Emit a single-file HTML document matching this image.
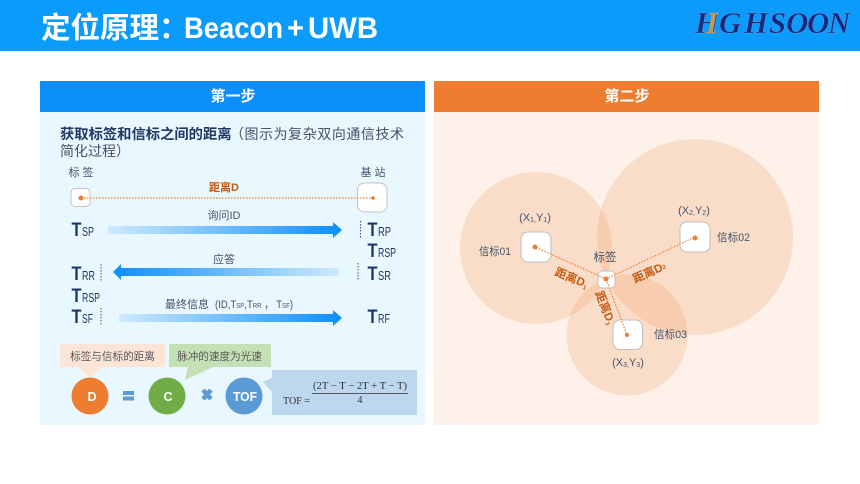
<!DOCTYPE html>
<html><head><meta charset="utf-8"><style>
html,body{margin:0;padding:0;background:#fff}
svg{display:block}
text{font-family:"Liberation Sans","Noto Sans CJK SC",sans-serif}
.g{fill:#44546a;font-size:11px}
.d{fill:#1f3864;font-size:19px;font-weight:bold}
.s{fill:#1f3864;font-size:13px}
.o{fill:#c55a11;font-size:11.500px;font-weight:bold}
.f{font-family:"Liberation Serif",serif;fill:#333;font-size:10px}
</style></head><body>
<svg width="860" height="484" viewBox="0 0 860 484" xmlns="http://www.w3.org/2000/svg">
<defs>
<linearGradient id="r"><stop offset="0" stop-color="#cfeafd"/><stop offset="1" stop-color="#0c8efb"/></linearGradient>
<linearGradient id="l"><stop offset="0" stop-color="#0c8efb"/><stop offset="1" stop-color="#cfeafd"/></linearGradient>
</defs>
<rect width="860" height="484" fill="#fff"/>
<rect width="860" height="51" fill="#0a9bfb"/>
<text x="41" y="38" font-size="29.500" font-weight="bold" fill="#fff">定位原理：</text>
<text x="184" y="38" font-size="30" font-weight="bold" fill="#fff" textLength="99" lengthAdjust="spacingAndGlyphs">Beacon</text>
<text x="287" y="38" font-size="30" font-weight="bold" fill="#fff" textLength="17" lengthAdjust="spacingAndGlyphs">+</text>
<text x="308" y="38" font-size="30" font-weight="bold" fill="#fff" textLength="70" lengthAdjust="spacingAndGlyphs">UWB</text>
<text y="33" font-size="31" font-weight="bold" font-style="italic" stroke="#6f9fdc" stroke-width=".4" style="font-family:'Liberation Serif',serif" fill="#12297f"><tspan x="695">H</tspan><tspan x="706" fill="#c19a5b" stroke="none">I</tspan><tspan x="719 744 769 786 807 828">GHSOON</tspan></text>

<rect x="40" y="81" width="385" height="31" fill="#0c8efb"/>
<rect x="40" y="112" width="385" height="313" fill="#e9f7fe"/>
<text x="233" y="101" text-anchor="middle" fill="#fff" font-size="15" font-weight="bold">第一步</text>
<rect x="434" y="81" width="385" height="31" fill="#ed7d31"/>
<rect x="434" y="112" width="385" height="313" fill="#fdf1e9"/>
<text x="627" y="101" text-anchor="middle" fill="#fff" font-size="15" font-weight="bold">第二步</text>

<text x="60" y="139" font-size="14.300" font-weight="bold" fill="#1f3864">获取标签和信标之间的距离</text>
<text x="230" y="139" font-size="14" fill="#44546a" textLength="174">（图示为复杂双向通信技术</text>
<text x="60" y="156" font-size="14" fill="#44546a">简化过程）</text>

<text x="81" y="176" class="g" text-anchor="middle">标 签</text>
<text x="373" y="176" class="g" text-anchor="middle">基 站</text>
<rect x="71" y="188.500" width="19" height="18" rx="4" fill="#fff" stroke="#bfc3c9"/>
<rect x="357.500" y="183" width="29.500" height="29" rx="7" fill="#fff" stroke="#bfc3c9"/>
<line x1="81" y1="198" x2="373" y2="198" stroke="#ed7d31" stroke-width="1.200" stroke-dasharray="1.500 1.500"/>
<circle cx="81" cy="198" r="2.500" fill="#ed7d31"/><circle cx="373" cy="198" r="1.800" fill="#ed7d31"/>
<text x="224" y="191" class="o" text-anchor="middle" style="font-size:11px">距离D</text>

<text x="224" y="219" class="g" text-anchor="middle">询问ID</text>
<polygon points="108,226 333,226 333,222 342,230 333,238 333,234 108,234" fill="url(#r)"/>
<text x="224" y="263" class="g" text-anchor="middle">应答</text>
<polygon points="339,268 121,268 121,264 113,272 121,280 121,276 339,276" fill="url(#l)"/>
<text x="165" y="308" class="g">最终信息</text>
<text x="215" y="308" class="g" textLength="78" lengthAdjust="spacingAndGlyphs">(ID,T<tspan font-size="7">SP</tspan>,T<tspan font-size="7">RR</tspan> ， T<tspan font-size="7">SF</tspan>)</text>
<polygon points="119,314 333,314 333,310 342,318 333,326 333,322 119,322" fill="url(#r)"/>

<g stroke="#44546a" stroke-width="1" stroke-dasharray="1.500 1.500">
<line x1="360.500" y1="221" x2="360.500" y2="239"/><line x1="358" y1="263" x2="358" y2="281"/>
<line x1="101" y1="264" x2="101" y2="282"/><line x1="101" y1="308" x2="101" y2="326"/>
</g>
<text class="d" x="71.500" y="236" textLength="10" lengthAdjust="spacingAndGlyphs">T</text>
<text class="d" x="367.500" y="236" textLength="10" lengthAdjust="spacingAndGlyphs">T</text>
<text class="d" x="367.500" y="257" textLength="10" lengthAdjust="spacingAndGlyphs">T</text>
<text class="d" x="367.500" y="280" textLength="10" lengthAdjust="spacingAndGlyphs">T</text>
<text class="d" x="71.500" y="280" textLength="10" lengthAdjust="spacingAndGlyphs">T</text>
<text class="d" x="71.500" y="302" textLength="10" lengthAdjust="spacingAndGlyphs">T</text>
<text class="d" x="71.500" y="323" textLength="10" lengthAdjust="spacingAndGlyphs">T</text>
<text class="d" x="367.500" y="323" textLength="10" lengthAdjust="spacingAndGlyphs">T</text>
<text class="s" x="82" y="236" textLength="12" lengthAdjust="spacingAndGlyphs">SP</text>
<text class="s" x="378" y="236" textLength="13" lengthAdjust="spacingAndGlyphs">RP</text>
<text class="s" x="378" y="257" textLength="18" lengthAdjust="spacingAndGlyphs">RSP</text>
<text class="s" x="378" y="280" textLength="13" lengthAdjust="spacingAndGlyphs">SR</text>
<text class="s" x="82" y="280" textLength="13" lengthAdjust="spacingAndGlyphs">RR</text>
<text class="s" x="82" y="302" textLength="18" lengthAdjust="spacingAndGlyphs">RSP</text>
<text class="s" x="82" y="323" textLength="11" lengthAdjust="spacingAndGlyphs">SF</text>
<text class="s" x="378" y="323" textLength="12" lengthAdjust="spacingAndGlyphs">RF</text>

<polygon points="60,344 165,344 165,367 103,367 90,378 78,367 60,367" fill="#fbe5d6"/>
<text x="112.500" y="360" text-anchor="middle" font-size="10.600" fill="#595959">标签与信标的距离</text>
<polygon points="169,344 271,344 271,367 213,367 185,380 188,367 169,367" fill="#c5e0b4"/>
<text x="219.500" y="360" text-anchor="middle" font-size="10.600" fill="#595959">脉冲的速度为光速</text>
<polygon points="272,370 417,370 417,415 272,415 272,392 263,382 272,378" fill="#bdd7ee"/>

<circle cx="90" cy="396" r="18.500" fill="#ed7d31"/>
<text x="92" y="401" text-anchor="middle" fill="#fff" font-size="12.500" font-weight="bold">D</text>
<rect x="123" y="391" width="11" height="4" fill="#5b9bd5"/><rect x="123" y="396.500" width="11" height="4" fill="#5b9bd5"/>
<circle cx="167" cy="396" r="18.500" fill="#70ad47"/>
<text x="168" y="401" text-anchor="middle" fill="#fff" font-size="12.500" font-weight="bold">C</text>
<g stroke="#5b9bd5" stroke-width="4.500"><line x1="203" y1="390" x2="211" y2="399"/><line x1="211" y1="390" x2="203" y2="399"/></g>
<circle cx="244" cy="396" r="18.500" fill="#5b9bd5"/>
<text x="245" y="401" text-anchor="middle" fill="#fff" font-size="12.500" font-weight="bold" textLength="24" lengthAdjust="spacingAndGlyphs">TOF</text>
<text x="283" y="404" class="f" textLength="27" lengthAdjust="spacingAndGlyphs">TOF =</text>
<text x="313" y="389" class="f" textLength="94" lengthAdjust="spacingAndGlyphs">(2T − T − 2T + T − T)</text>
<text x="360" y="403" class="f" text-anchor="middle">4</text>
<line x1="312" y1="393.500" x2="408" y2="393.500" stroke="#333" stroke-width=".8"/>

<g fill="#ed7d31" fill-opacity=".17">
<circle cx="536" cy="248" r="76"/><circle cx="695" cy="237" r="98"/><circle cx="627" cy="335" r="60.500"/>
</g>
<g fill="#fff" stroke="#c0bdbb">
<rect x="521" y="232" width="30" height="30" rx="7"/>
<rect x="680" y="222" width="30" height="30" rx="7"/>
<rect x="613" y="320" width="29.500" height="29.500" rx="7"/>
<rect x="598" y="271" width="17" height="17" rx="4"/>
</g>
<g stroke="#ed7d31" stroke-width="1.200" stroke-dasharray="1.500 1.500" fill="none">
<line x1="606" y1="279" x2="535" y2="247"/><line x1="606" y1="279" x2="695" y2="237"/><line x1="606" y1="279" x2="627" y2="335"/>
</g>
<g fill="#ed7d31"><circle cx="535" cy="247" r="2.500"/><circle cx="695" cy="238" r="2.500"/><circle cx="627" cy="335" r="2"/><circle cx="606" cy="279" r="2.500"/></g>

<text x="535" y="221" class="g" text-anchor="middle">(X<tspan font-size="7" dy="1">1,</tspan><tspan dy="-1">Y</tspan><tspan font-size="7" dy="1">1</tspan><tspan dy="-1">)</tspan></text>
<text x="694" y="214" class="g" text-anchor="middle">(X<tspan font-size="7" dy="1">2,</tspan><tspan dy="-1">Y</tspan><tspan font-size="7" dy="1">2</tspan><tspan dy="-1">)</tspan></text>
<text x="628" y="366" class="g" text-anchor="middle">(X<tspan font-size="7" dy="1">3,</tspan><tspan dy="-1">Y</tspan><tspan font-size="7" dy="1">3</tspan><tspan dy="-1">)</tspan></text>
<text x="479" y="255" class="g" textLength="32" lengthAdjust="spacingAndGlyphs">信标01</text>
<text x="717" y="241" class="g" textLength="33" lengthAdjust="spacingAndGlyphs">信标02</text>
<text x="654" y="338" class="g" textLength="33" lengthAdjust="spacingAndGlyphs">信标03</text>
<text x="605" y="261" class="g" text-anchor="middle" style="font-size:11.500px">标签</text>
<text class="o" transform="translate(554,275) rotate(22)">距离D<tspan font-size="6" dy="2">1</tspan></text>
<text class="o" transform="translate(635,283) rotate(-24)">距离D<tspan font-size="6" dy="-1">2</tspan></text>
<text class="o" transform="translate(595,293) rotate(68)">距离D<tspan font-size="6" dy="2">3</tspan></text>
</svg>
</body></html>
